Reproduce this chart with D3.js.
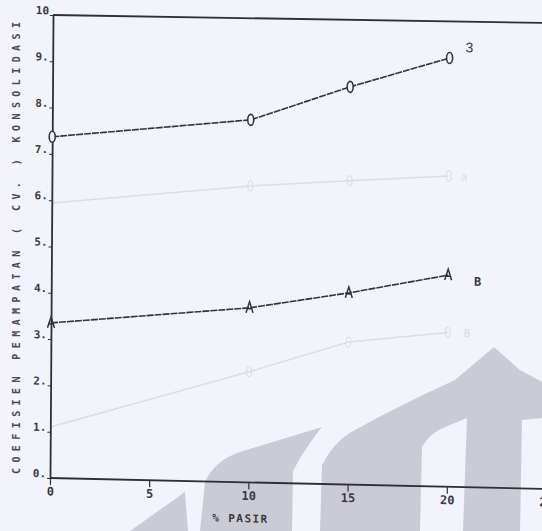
<!DOCTYPE html>
<html>
<head>
<meta charset="utf-8">
<script src="https://cdn.jsdelivr.net/npm/d3@7"></script>
<style>
  body { margin: 0; background: #f3f3fb; }
  svg { display: block; }
  text { font-family: 'DejaVu Sans Mono', monospace; fill: #3a3a42; }
</style>
</head>
<body>
<div id="vis"></div>
<script>
const FRAME_WIDTH = 542;
const FRAME_HEIGHT = 531;

// data
const pasir = [0, 10, 15, 20];
const seriesThree = [7.37, 7.83, 8.59, 9.26];
const seriesB = [3.35, 3.77, 4.14, 4.57];
// faint show-through lines from the back of the page
const faintUpper = [5.94, 6.4, 6.56, 6.71];
const faintLower = [1.1, 2.39, 3.08, 3.33];

const xTicks = [0, 5, 10, 15, 20, 25];
const yTicks = [0, 1, 2, 3, 4, 5, 6, 7, 8, 9, 10];
const yTitle = 'COEFISIEN  PEMAMPATAN  ( CV. )  KONSOLIDASI';
const xTitle = '% PASIR';

const ORIGIN = { x: 50, y: 478 };

const svg = d3.select('#vis')
  .append('svg')
  .attr('width', FRAME_WIDTH)
  .attr('height', FRAME_HEIGHT);

svg.append('rect')
  .attr('width', FRAME_WIDTH)
  .attr('height', FRAME_HEIGHT)
  .attr('fill', '#f3f3fb');

// watermark logo (light grey blocks, bottom right)
const wm = svg.append('g').attr('fill', '#cbcbd5');
wm.append('path').attr('d', 'M130,531 L185,492 L188,531 Z');
wm.append('path').attr('d', 'M200,531 L205,482 Q215,460 240,452 L322,427 Q300,455 293,472 L292,531 Z');
wm.append('path')
  .attr('fill-rule', 'evenodd')
  .attr('d', 'M320,531 L322,465 Q335,440 355,430 Q400,405 455,380 L494,347 L520,370 L542,382 L542,531 Z ' +
    'M420,531 L422,447 Q430,432 450,425 L467,418 L463,531 Z ' +
    'M520,531 L522,420 L542,418 L542,531 Z');

// the scan is a bit skewed: x axis drops to the right, y axis leans slightly
const plot = svg.append('g')
  .attr('transform', `translate(${ORIGIN.x},${ORIGIN.y}) matrix(1,0.022,-0.0065,1,0,0) translate(${-ORIGIN.x},${-ORIGIN.y})`);

const X_SCALE = d3.scaleLinear().domain([0, 25]).range([ORIGIN.x, ORIGIN.x + 496]);
const Y_SCALE = d3.scaleLinear().domain([0, 10]).range([ORIGIN.y, ORIGIN.y - 463]);

const line = d3.line()
  .x((d) => X_SCALE(d[0]))
  .y((d) => Y_SCALE(d[1]));

// faint lines
[faintUpper, faintLower].forEach((vals) => {
  plot.append('path')
    .datum(pasir.map((p, i) => [p, vals[i]]))
    .attr('d', line)
    .attr('fill', 'none')
    .attr('stroke', '#dcdce6')
    .attr('stroke-width', 1.5);
  plot.selectAll(null)
    .data(pasir.slice(1).map((p, i) => [p, vals[i + 1]]))
    .enter()
    .append('ellipse')
    .attr('cx', (d) => X_SCALE(d[0]))
    .attr('cy', (d) => Y_SCALE(d[1]))
    .attr('rx', 2.5)
    .attr('ry', 5)
    .attr('fill', 'none')
    .attr('stroke', '#dcdce6');
});
plot.append('text')
  .attr('x', X_SCALE(20) + 12).attr('y', Y_SCALE(faintUpper[3]) + 4)
  .attr('font-size', 11).style('fill', '#dcdce6').text('a');
plot.append('text')
  .attr('x', X_SCALE(20) + 16).attr('y', Y_SCALE(faintLower[3]) + 4)
  .attr('font-size', 11).style('fill', '#dcdce6').text('B');

// axes
const xAxis = plot.append('g')
  .attr('transform', `translate(0, ${ORIGIN.y})`)
  .call(d3.axisBottom(X_SCALE).tickValues(xTicks).tickSize(7).tickSizeOuter(0).tickPadding(2));
xAxis.select('.domain').attr('stroke', '#2f2f36').attr('stroke-width', 1.8)
  .attr('d', `M${ORIGIN.x},0H${FRAME_WIDTH + 20}`);
xAxis.selectAll('line').attr('stroke', '#2f2f36').attr('stroke-width', 1.2);
xAxis.selectAll('text')
  .attr('font-size', 12).attr('font-weight', 'bold')
  .style('font-family', "'DejaVu Sans Mono', monospace").style('fill', '#3a3a42');

const yAxis = plot.append('g')
  .attr('transform', `translate(${ORIGIN.x}, 0)`)
  .call(d3.axisLeft(Y_SCALE).tickValues(yTicks).tickSize(3).tickSizeOuter(0).tickPadding(1)
    .tickFormat((d) => (d === 10 ? '10' : d + '.')));
yAxis.select('.domain').attr('stroke', '#2f2f36').attr('stroke-width', 1.8);
yAxis.selectAll('line').attr('stroke', '#2f2f36');
yAxis.selectAll('text')
  .attr('dy', '-0.1em')
  .attr('font-size', 11).attr('font-weight', 'bold')
  .style('font-family', "'DejaVu Sans Mono', monospace").style('fill', '#3a3a42');

// top frame line at 10
plot.append('line')
  .attr('x1', X_SCALE(0)).attr('x2', FRAME_WIDTH + 20)
  .attr('y1', Y_SCALE(10)).attr('y2', Y_SCALE(10) - 3)
  .attr('stroke', '#2f2f36').attr('stroke-width', 1.8);

// series 3 (diamond-ish markers)
plot.append('path')
  .datum(pasir.map((p, i) => [p, seriesThree[i]]))
  .attr('d', line)
  .attr('fill', 'none')
  .attr('stroke', '#33333a')
  .attr('stroke-width', 1.6)
  .attr('stroke-dasharray', '7,1');
plot.selectAll('.m3')
  .data(pasir.map((p, i) => [p, seriesThree[i]]))
  .enter()
  .append('ellipse')
  .attr('class', 'm3')
  .attr('cx', (d) => X_SCALE(d[0]))
  .attr('cy', (d) => Y_SCALE(d[1]))
  .attr('rx', 3)
  .attr('ry', 5.5)
  .attr('fill', '#f3f3fb')
  .attr('stroke', '#33333a')
  .attr('stroke-width', 1.6);
plot.append('text')
  .attr('x', X_SCALE(20) + 16).attr('y', Y_SCALE(seriesThree[3]) - 6)
  .attr('font-size', 14).style('font-family', 'Arial, sans-serif').text('3');

// series B (triangle markers)
plot.append('path')
  .datum(pasir.map((p, i) => [p, seriesB[i]]))
  .attr('d', line)
  .attr('fill', 'none')
  .attr('stroke', '#33333a')
  .attr('stroke-width', 1.6)
  .attr('stroke-dasharray', '7,1');
plot.selectAll('.mb')
  .data(pasir.map((p, i) => [p, seriesB[i]]))
  .enter()
  .append('path')
  .attr('class', 'mb')
  .attr('transform', (d) => `translate(${X_SCALE(d[0])}, ${Y_SCALE(d[1])})`)
  .attr('d', 'M-3.5,5 L0,-6 L3.5,5 M-2,1 H2')
  .attr('fill', 'none')
  .attr('stroke', '#33333a')
  .attr('stroke-width', 1.5);
plot.append('text')
  .attr('x', X_SCALE(20) + 26).attr('y', Y_SCALE(seriesB[3]) + 10)
  .attr('font-size', 12).attr('font-weight', 'bold').text('B');

// axis titles
plot.append('text')
  .attr('x', X_SCALE(10) - 36).attr('y', ORIGIN.y + 40)
  .attr('font-size', 11).attr('font-weight', 'bold')
  .attr('textLength', 55).attr('lengthAdjust', 'spacing')
  .text(xTitle);

svg.append('text')
  .attr('transform', 'translate(20, 248) rotate(-90)')
  .attr('text-anchor', 'middle')
  .attr('font-size', 10).attr('font-weight', 'bold')
  .attr('textLength', 452)
  .attr('lengthAdjust', 'spacing')
  .style('fill', '#4a4a54')
  .text(yTitle);
</script>
</body>
</html>
